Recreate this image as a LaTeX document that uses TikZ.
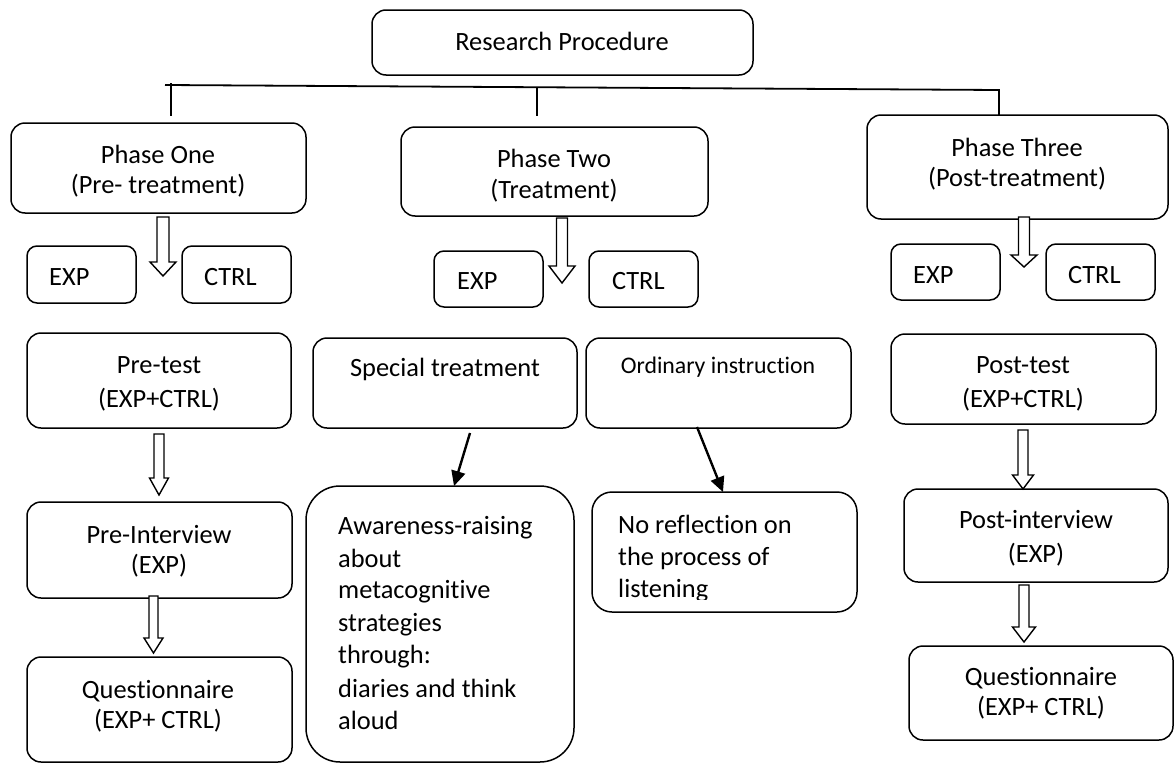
\documentclass[tikz,border=0pt]{standalone}
\usepackage{fontspec}
\setmainfont{Carlito}[Ligatures=NoCommon]
\usetikzlibrary{arrows.meta}

% rounded box given by its corners (x1,y1) and (x2,y2)
\newcommand\bx[6]{%
  \node[rbox,#6,minimum width={(#4-#2)*1pt},minimum height={(#5-#3)*1pt}]
    (#1) at ({(#2+#4)/2},{(#3+#5)/2}) {};}
% hollow block arrow: centre x, top, start of head, tip, shaft half width, head half width
\newcommand\blockarrow[6]{%
  \draw[hollow] (#1-#5,#2) -- (#1+#5,#2) -- (#1+#5,#3) -- (#1+#6,#3)
    -- (#1,#4) -- (#1-#6,#3) -- (#1-#5,#3) -- cycle;}

\begin{document}
\begin{tikzpicture}[x=1pt,y=-1pt,
  rbox/.style={draw,line width=1.5pt,rounded corners=14pt,inner sep=0pt,outer sep=0pt},
  small corners/.style={rounded corners=10pt},
  large corners/.style={rounded corners=34pt},
  mid corners/.style={rounded corners=20pt},
  lbl/.style={inner sep=0pt,anchor=base,font=\fontsize{26.4}{32}\selectfont},
  lblw/.style={lbl,anchor=base west},
  hollow/.style={draw,line width=1.4pt,line join=miter,fill=white},
  link/.style={line width=1.8pt},
  pointer/.style={line width=2.4pt,-{Triangle[length=15pt,width=14pt]}}]
\useasboundingbox (0,0) rectangle (1176,763);

% title and the three phases
\bx{rp}{372}{10}{753}{75}{}
\node[lbl] (rpt) at (562,50) {Research Procedure};

\bx{p1}{11}{123}{306}{213}{}
\node[lbl] (p1a) at (158,163) {Phase One};
\node[lbl] (p1b) at (158,193) {(Pre- treatment)};

\bx{p2}{401}{127}{708}{216}{}
\node[lbl] (p2a) at (554,167) {Phase Two};
\node[lbl] (p2b) at (554,198) {(Treatment)};

\bx{p3}{867}{115}{1168}{219}{}
\node[lbl] (p3a) at (1017,156) {Phase Three};
\node[lbl] (p3b) at (1017,186) {(Post-treatment)};

% branching line from the title
\coordinate (hl) at (165,85);
\coordinate (hr) at (999,90);
\coordinate (v1t) at (171,83);
\coordinate (v1b) at (171,116);
\coordinate (v2t) at (537,88);
\coordinate (v2b) at (537,116);
\draw[link] (hl) -- (hr) -- (p3.north -| hr);
\draw[link] (v1t) -- (v1b);
\draw[link] (v2t) -- (v2b);

% groups
\bx{e1}{27}{246}{136}{303}{small corners}
\node[lbl,anchor=base west] (e1t) at (49,285) {EXP};
\bx{c1}{182}{246}{291}{303}{small corners}
\node[lbl,anchor=base west] (c1t) at (204,285) {CTRL};
\bx{e2}{434}{251}{543}{307}{small corners}
\node[lbl,anchor=base west] (e2t) at (457,289) {EXP};
\bx{c2}{589}{251}{698}{307}{small corners}
\node[lbl,anchor=base west] (c2t) at (612,289) {CTRL};
\bx{e3}{891}{244}{1000}{300}{small corners}
\node[lbl,anchor=base west] (e3t) at (913,283) {EXP};
\bx{c3}{1046}{244}{1155}{300}{small corners}
\node[lbl,anchor=base west] (c3t) at (1068,283) {CTRL};

\blockarrow{163}{217}{262}{276}{6}{13}
\blockarrow{562}{218}{266}{283}{5.5}{13}
\blockarrow{1024}{217}{255}{267}{5.5}{13}

% phase one column
\bx{pre}{27}{333}{291}{428}{}
\node[lbl] (prea) at (159,373) {Pre-test};
\node[lbl] (preb) at (159,407) {(EXP+CTRL)};
\bx{pint}{27}{502}{292}{598}{}
\node[lbl] (pinta) at (159,543) {Pre-Interview};
\node[lbl] (pintb) at (159,573) {(EXP)};
\bx{q1}{27}{657}{292}{762}{}
\node[lbl] (q1a) at (158,698) {Questionnaire};
\node[lbl] (q1b) at (158,728) {(EXP+ CTRL)};
\blockarrow{159}{434}{478}{495}{5}{9.5}
\blockarrow{153.5}{596}{638}{653}{4.5}{9.5}

% phase two column
\bx{spec}{313}{338}{577}{428}{}
\node[lbl] (spect) at (445,376) {Special treatment};
\bx{ord}{586}{338}{851}{428}{}
\node[lbl,font=\fontsize{23.8}{29}\selectfont] (ordt) at (718,373) {Ordinary instruction};

\bx{aware}{306}{486}{574}{762}{large corners}
\node[lblw] (aw1) at (338,534) {Awareness-raising};
\node[lblw] (aw2) at (338,567) {about};
\node[lblw] (aw3) at (338,598) {metacognitive};
\node[lblw] (aw4) at (338,631) {strategies};
\node[lblw] (aw5) at (338,663) {through:};
\node[lblw] (aw6) at (338,697) {diaries and think};
\node[lblw] (aw7) at (338,729) {aloud};

\bx{noref}{592}{492}{857}{612}{mid corners}
\begin{scope}
  \clip (594,494) rectangle (855,599);
  \node[lblw] (nr1) at (618,533) {No reflection on};
  \node[lblw] (nr2) at (618,565) {the process of};
  \node[lblw] (nr3) at (618,597) {listening};
\end{scope}

\coordinate (s1) at (470,433);
\coordinate (s2) at (697,427);
\draw[pointer] (s1) -- (aware.north -| 454,0);
\draw[pointer] (s2) -- (noref.north -| 723,0);

% phase three column
\bx{post}{891}{334}{1156}{424}{}
\node[lbl] (posta) at (1023,373) {Post-test};
\node[lbl] (postb) at (1023,407) {(EXP+CTRL)};
\bx{poi}{904}{489}{1168}{582}{}
\node[lbl] (poia) at (1036,528) {Post-interview};
\node[lbl] (poib) at (1036,562) {(EXP)};
\bx{q3}{909}{646}{1173}{740}{}
\node[lbl] (q3a) at (1041,685) {Questionnaire};
\node[lbl] (q3b) at (1041,715) {(EXP+ CTRL)};
\blockarrow{1023}{430}{475}{489}{5}{10.5}
\blockarrow{1024}{585}{627}{642}{5}{11.5}
\end{tikzpicture}
\end{document}
